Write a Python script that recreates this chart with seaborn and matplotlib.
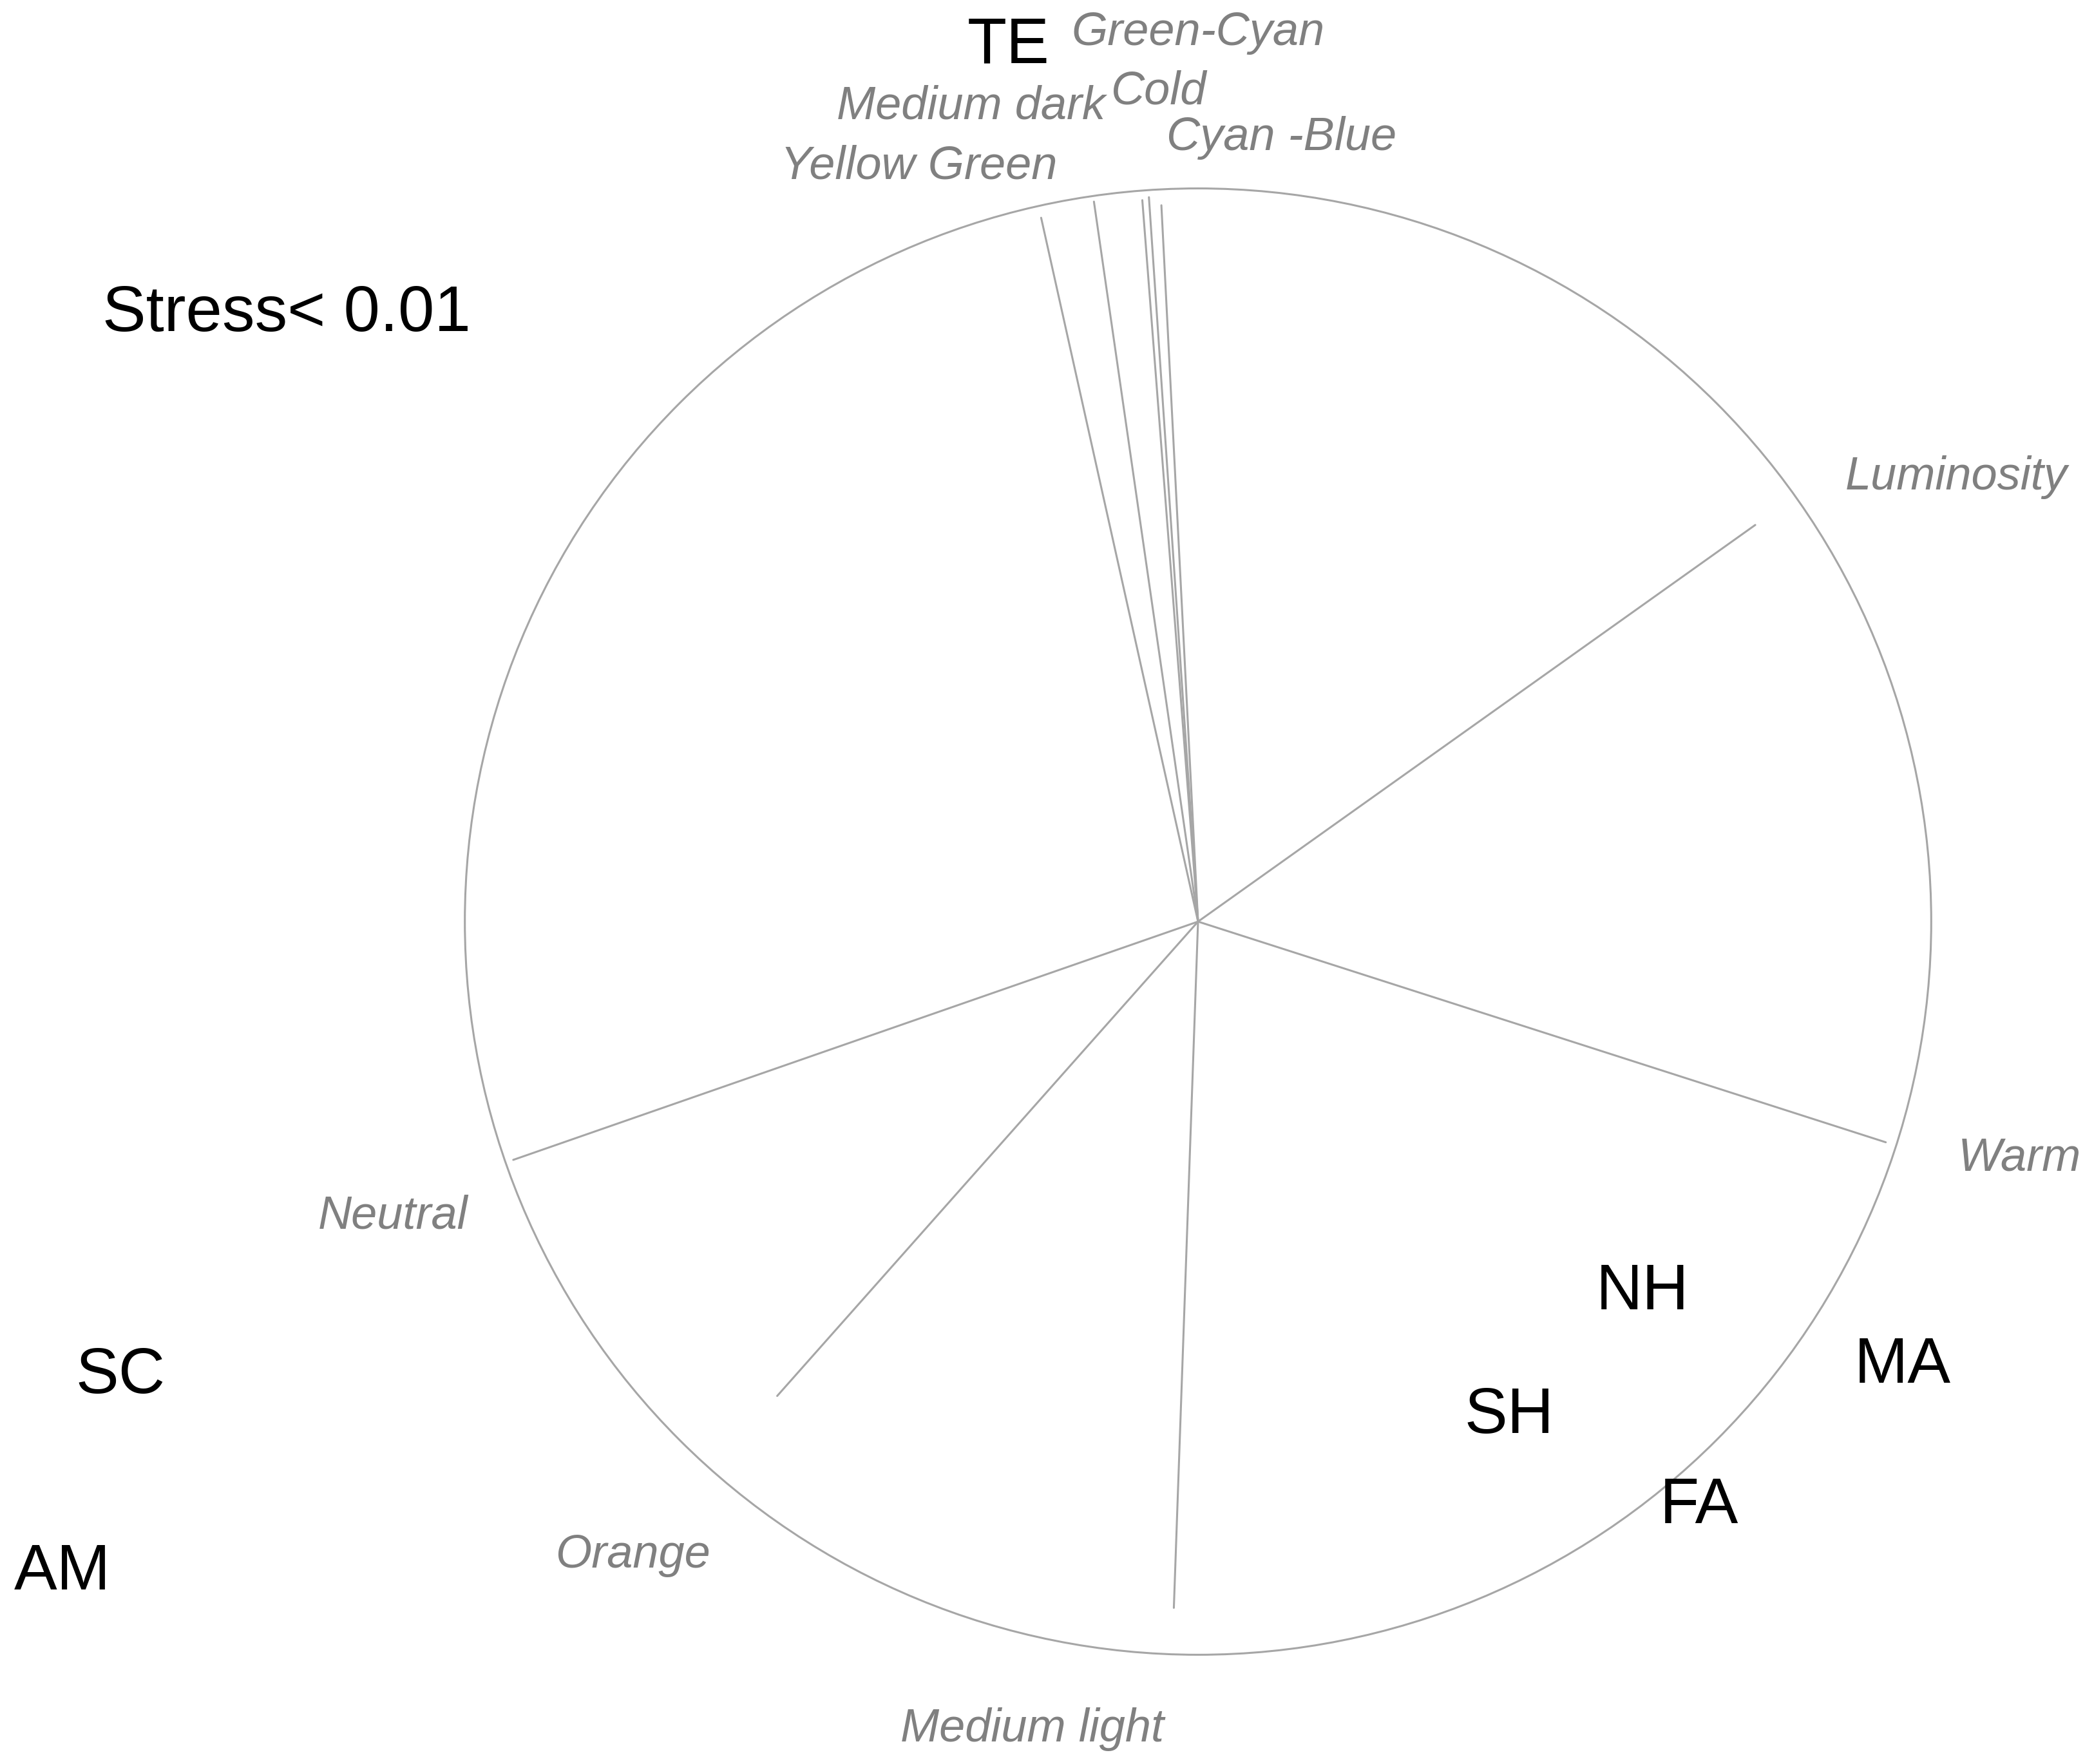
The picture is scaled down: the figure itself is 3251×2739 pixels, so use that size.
import matplotlib
matplotlib.use("Agg")
import matplotlib.pyplot as plt
from matplotlib.patches import Circle
import pandas as pd
import seaborn as sns

# NMDS fit vectors (unit circle = correlation 1)
variables = ["Luminosity", "Warm", "Medium light", "Orange", "Neutral",
             "Yellow Green", "Medium dark", "Cold", "Green-Cyan", "Cyan -Blue"]
vec_x = [0.760, 0.938, -0.033, -0.574, -0.934, -0.214, -0.142, -0.076, -0.067, -0.050]
vec_y = [0.541, -0.301, -0.936, -0.647, -0.325, 0.960, 0.982, 0.984, 0.988, 0.977]

# where the variable names sit
var_lab_x = [1.034, 1.120, -0.226, -0.771, -1.098, -0.381, -0.310, -0.054, 0.000, 0.114]
var_lab_y = [0.606, -0.323, -1.102, -0.864, -0.402, 1.030, 1.112, 1.132, 1.212, 1.069]

# sample scores
samples = ["TE", "SC", "AM", "NH", "MA", "SH", "FA"]
samp_x = [-0.259, -1.470, -1.549, 0.606, 0.961, 0.424, 0.683]
samp_y = [1.194, -0.620, -0.888, -0.506, -0.606, -0.675, -0.798]

stress_text = "Stress< 0.01"

sns.set_style("white")
plt.rcParams["font.family"] = ["Liberation Sans", "DejaVu Sans"]

fig = plt.figure(figsize=(32.51, 27.39), dpi=100)
ax = fig.add_axes([0, 0, 1, 1])

line_col = "#a6a6a6"

# segments from origin to each vector tip
seg = pd.DataFrame({
    "var": [v for v in variables for _ in range(2)],
    "x": [c for tip in vec_x for c in (0.0, tip)],
    "y": [c for tip in vec_y for c in (0.0, tip)],
})
sns.lineplot(data=seg, x="x", y="y", units="var", estimator=None, sort=False,
             color=line_col, linewidth=2.2, ax=ax, legend=False)

ax.add_patch(Circle((0, 0), 1.0, fill=False, edgecolor=line_col, linewidth=2.2))

for name, x, y in zip(variables, var_lab_x, var_lab_y):
    ax.text(x, y, name, ha="center", va="center", fontsize=52,
            style="italic", color="#808080")

for name, x, y in zip(samples, samp_x, samp_y):
    ax.text(x, y, name, ha="center", va="center", fontsize=72, color="black")

ax.text(-1.243, 0.828, stress_text, ha="center", va="center", fontsize=73,
        color="black")

ax.set_xlim(-1.634, 1.222)
ax.set_ylim(-1.149, 1.257)
ax.set_axis_off()

fig.savefig("out.png", dpi=100, facecolor="white")
